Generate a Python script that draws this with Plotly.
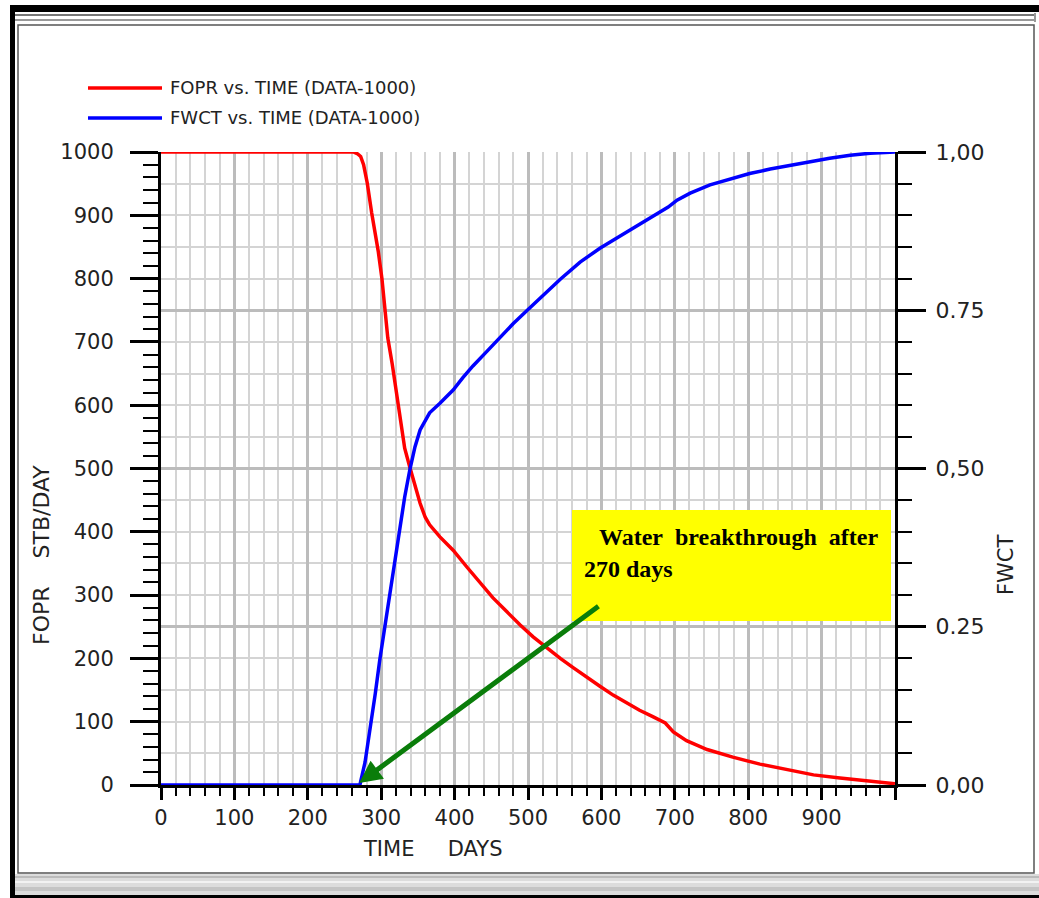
import plotly.graph_objects as go

# ---- simulation output: field oil rate and field water cut vs. time ----
fopr_days = [0, 262, 268, 272, 276, 281, 287, 296, 301, 305, 309, 315, 319, 323, 328,
             332, 339, 346, 353, 360, 366, 380, 398, 417, 435, 452, 471, 489, 507,
             526, 544, 562, 580, 598, 616, 635, 652, 670, 687, 698, 716, 744, 779,
             816, 853, 889, 925, 962, 1000]
fopr = [1000, 1000, 997, 993, 980, 951, 904, 843, 800, 753, 706, 665, 633, 595, 564,
        532, 502, 472, 445, 423, 411, 392, 371, 344, 319, 296, 274, 253, 234,
        216, 200, 185, 170, 156, 142, 129, 118, 108, 98, 84, 70, 56, 44,
        33, 24, 16, 11, 6, 2]

fwct_days = [0, 271, 278, 285, 292, 298, 305, 312, 319, 326, 332, 339, 346, 353, 360,
             366, 380, 398, 411, 425, 444, 462, 480, 499, 516, 544, 571, 598, 625,
             653, 680, 691, 703, 721, 748, 775, 802, 830, 857, 884, 911, 939, 966, 1000]
fwct = [0, 0, 0.036, 0.087, 0.145, 0.197, 0.25, 0.303, 0.355, 0.403, 0.455, 0.498,
        0.534, 0.561, 0.577, 0.588, 0.603, 0.624, 0.643, 0.662, 0.685, 0.707, 0.729,
        0.750, 0.769, 0.799, 0.826, 0.848, 0.867, 0.886, 0.904, 0.913, 0.924, 0.935,
        0.948, 0.957, 0.966, 0.973, 0.979, 0.985, 0.990, 0.995, 0.998, 1.0]

time_ticks = [0, 100, 200, 300, 400, 500, 600, 700, 800, 900, 1000]
time_labels = ["0", "100", "200", "300", "400", "500", "600", "700", "800", "900", ""]
rate_ticks = [0, 100, 200, 300, 400, 500, 600, 700, 800, 900, 1000]
rate_labels = ["0", "100", "200", "300", "400", "500", "600", "700", "800", "900", "1000"]
wct_ticks = [0, 0.25, 0.5, 0.75, 1.0]
wct_labels = ["0,00", "0.25", "0,50", "0.75", "1,00"]

series_names = ["FOPR vs. TIME (DATA-1000)", "FWCT vs. TIME (DATA-1000)"]
breakthrough_day = 270
note_lines = ["Water breakthrough after", "270 days"]

# ---- page geometry (pixels) ----
W, H = 1039, 898
L, R, T, B = 161, 895, 152, 785


def px(x):
    return (x - L) / (R - L)


def py(y):
    return (B - y) / (B - T)


NB = "\u00a0"
TICK_FONT = dict(family="DejaVu Sans", size=21, color="#222222")
LABEL_FONT = dict(family="DejaVu Sans", size=21, color="#222222")
LEG_FONT = dict(family="DejaVu Sans", size=18, color="#222222")
NOTE_FONT = dict(family="Liberation Serif", size=24, color="#000000", weight="bold")

GRID_MINOR = "#d4d4d4"
GRID_MAJOR = "#bcbcbc"

fig = go.Figure()
fig.add_trace(go.Scatter(x=fopr_days, y=fopr, mode="lines", name=series_names[0],
                         line=dict(color="#ff0000", width=3.5), yaxis="y"))
fig.add_trace(go.Scatter(x=fwct_days, y=fwct, mode="lines", name=series_names[1],
                         line=dict(color="#0000ff", width=3.5), yaxis="y2"))

fig.update_layout(
    width=W, height=H,
    margin=dict(l=L, r=W - R, t=T, b=H - B, pad=0),
    paper_bgcolor="white", plot_bgcolor="white",
    showlegend=False,
    xaxis=dict(
        range=[0, 1000], tickmode="array", tickvals=time_ticks, ticktext=time_labels,
        ticks="outside", ticklen=12, tickwidth=3, tickcolor="black",
        showline=True, linecolor="black", linewidth=3, zeroline=False,
        showgrid=True, gridcolor=GRID_MAJOR, gridwidth=3,
        tickfont=TICK_FONT, ticklabelstandoff=0,
        minor=dict(dtick=20, tick0=0, ticks="outside", ticklen=8, tickwidth=2,
                   tickcolor="black", showgrid=True, gridcolor=GRID_MINOR, gridwidth=2),
    ),
    yaxis=dict(
        range=[0, 1000], tickmode="array", tickvals=rate_ticks, ticktext=rate_labels,
        ticks="outside", ticklen=28, tickwidth=3, tickcolor="black",
        showline=True, linecolor="black", linewidth=3, zeroline=False,
        showgrid=False, tickfont=TICK_FONT, ticklabelstandoff=12,
        minor=dict(dtick=20, tick0=0, ticks="outside", ticklen=15, tickwidth=2,
                   tickcolor="black", showgrid=False),
    ),
    yaxis2=dict(
        range=[0, 1], overlaying="y", side="right", tickmode="array",
        tickvals=wct_ticks, ticktext=wct_labels,
        ticks="outside", ticklen=28, tickwidth=3, tickcolor="black",
        showline=True, linecolor="black", linewidth=3, zeroline=False,
        showgrid=True, gridcolor=GRID_MAJOR, gridwidth=3,
        tickfont=dict(TICK_FONT, size=22), ticklabelstandoff=5,
        minor=dict(dtick=0.05, tick0=0, ticks="outside", ticklen=14, tickwidth=2,
                   tickcolor="black", showgrid=True, gridcolor=GRID_MINOR, gridwidth=2),
    ),
)

# ---- window frame around the plot ----
shapes = []


def rect(x0, y0, x1, y1, fill, line_color=None, line_width=0, layer="below"):
    shapes.append(dict(type="rect", xref="paper", yref="paper",
                       x0=px(x0), x1=px(x1), y0=py(y0), y1=py(y1),
                       fillcolor=fill, layer=layer,
                       line=dict(color=line_color or fill, width=line_width)))


def hline(x0, x1, y, color, width, layer="below"):
    shapes.append(dict(type="line", xref="paper", yref="paper",
                       x0=px(x0), x1=px(x1), y0=py(y), y1=py(y), layer=layer,
                       line=dict(color=color, width=width)))


def vline(x, y0, y1, color, width, layer="below"):
    shapes.append(dict(type="line", xref="paper", yref="paper",
                       x0=px(x), x1=px(x), y0=py(y0), y1=py(y1), layer=layer,
                       line=dict(color=color, width=width)))


# bottom status strip
rect(15, 874, 1039, 895, "#dcdcdc")
hline(15, 1039, 877, "#9a9a9a", 1)
hline(15, 1039, 882, "#f2f2f2", 2)
hline(15, 1039, 889, "#c4c4c4", 4)
rect(10, 895, 1039, 898, "black")
# top title-bar edge
rect(10, 5, 1039, 12, "black")
hline(15, 1034, 15, "#777777", 2)
hline(15, 1034, 20, "#777777", 1.5)
vline(1035, 13, 22, "#777777", 1.5)
# left dark edge
rect(10, 5, 15, 898, "black")
# inner panel outline
shapes.append(dict(type="rect", xref="paper", yref="paper",
                   x0=px(18), x1=px(1034), y0=py(25), y1=py(873),
                   fillcolor="rgba(0,0,0,0)", layer="below",
                   line=dict(color="#555555", width=1.5)))

# legend swatches
hline(88, 162, 88, "#ff0000", 3.5, layer="above")
hline(88, 162, 118, "#0000ff", 3.5, layer="above")

# yellow callout box
rect(572, 510, 891, 621, "#ffff00", layer="above")

fig.update_layout(shapes=shapes)

ann = []
ann.append(dict(xref="paper", yref="paper", x=px(168), y=py(88), text=series_names[0],
                showarrow=False, xanchor="left", yanchor="middle", font=LEG_FONT))
ann.append(dict(xref="paper", yref="paper", x=px(168), y=py(118), text=series_names[1],
                showarrow=False, xanchor="left", yanchor="middle", font=LEG_FONT))
ann.append(dict(xref="paper", yref="paper", x=px(432), y=py(849),
                text="TIME" + NB * 5 + "DAYS", showarrow=False,
                xanchor="center", yanchor="middle", font=LABEL_FONT))
ann.append(dict(xref="paper", yref="paper", x=px(41), y=py(555),
                text="FOPR" + NB * 4 + "STB/DAY", showarrow=False, textangle=-90,
                xanchor="center", yanchor="middle", font=dict(LABEL_FONT, size=22)))
ann.append(dict(xref="paper", yref="paper", x=px(1006), y=py(565),
                text="FWCT", showarrow=False, textangle=-90,
                xanchor="center", yanchor="middle", font=LABEL_FONT))
ann.append(dict(xref="paper", yref="paper", x=px(597), y=py(537),
                text="Water" + NB * 2 + "breakthrough" + NB * 2 + "after",
                showarrow=False, xanchor="left", yanchor="middle", font=NOTE_FONT))
ann.append(dict(xref="paper", yref="paper", x=px(582), y=py(569), text=note_lines[1],
                showarrow=False, xanchor="left", yanchor="middle", font=NOTE_FONT))
# arrow pointing at the breakthrough time
ann.append(dict(xref="x", yref="y", x=breakthrough_day, y=3,
                axref="x", ayref="y", ax=598, ay=284, text="",
                showarrow=True, arrowhead=2, arrowsize=0.9, arrowwidth=5,
                arrowcolor="#0a7d0a", standoff=0))
fig.update_layout(annotations=ann)

fig.write_html("out.html")
